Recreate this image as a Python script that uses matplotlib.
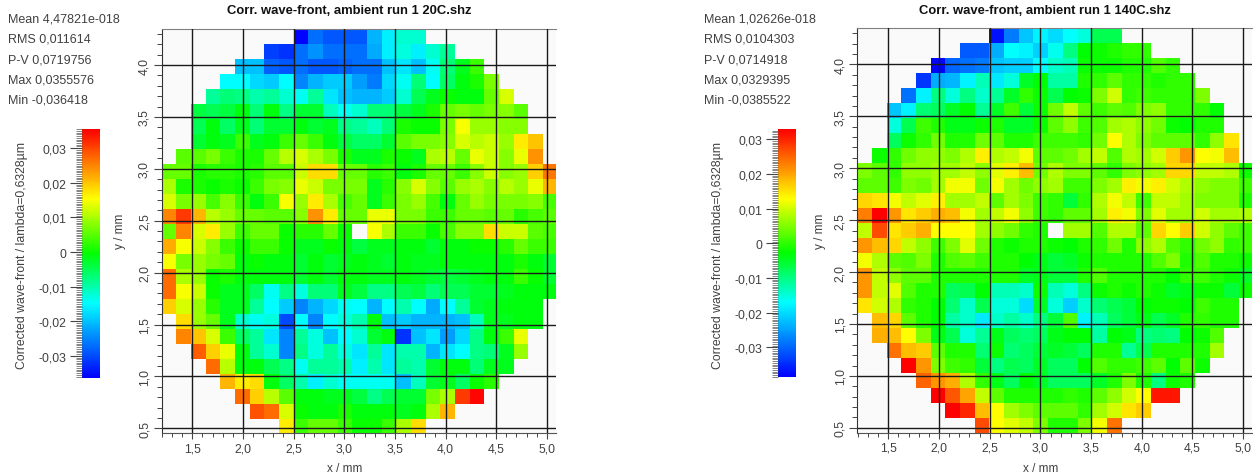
# wave-front maps, two runs side by side
import numpy as np
import matplotlib
matplotlib.use('Agg')
import matplotlib.pyplot as plt
from matplotlib.colors import LinearSegmentedColormap, Normalize
from matplotlib.ticker import MultipleLocator

plt.rcParams['font.family'] = ['Liberation Sans', 'DejaVu Sans']

n = np.nan
NCOL = 27

# values in 1e-3, first column of each row is in the *_start list
left_start = [9, 7, 5, 4, 3, 2, 2, 2, 1, 0, 0, 0, 0, 0, 0, 0, 0, 0, 0, 1, 1, 2, 3, 4, 5, 6, 8]
left_rows = [
    [-36, -27, -29, -29, -29, -21, -16, -12, -12],
    [-31, -32, -27, -24, -27, -27, -27, -22, -16, -13, -16, -12, -9],
    [-20, -20, -28, -29, -27, -29, -29, -28, -27, -27, -20, -17, -20, -14, -7, -2, 3],
    [-15, -15, -18, -19, -15, -25, -21, -19, -19, -23, -26, -18, -14, -7, -15, -6, -1, 1, 7],
    [-9, -7, -8, -10, -9, -12, -14, -9, -17, -20, -21, -21, -19, -12, -5, -2, 0, -1, -1, 6, 13],
    [-4, -5, -4, -1, -7, -1, -8, -3, -3, -11, -14, -12, -7, -7, -4, -2, 1, 6, 7, 6, 7, 8, 5],
    [-5, -1, -6, -2, -7, -3, -3, -1, -3, -2, -8, -9, -11, -7, 1, 0, 0, 7, 15, 9, 9, 8, 8],
    [-3, -1, -2, 3, -2, -1, 3, 6, 3, -1, -4, -6, -6, -3, 5, 7, 7, 8, 13, 11, 12, 9, 17, 20],
    [5, 5, 7, 3, 1, 1, 6, 11, 13, 10, 7, 1, -2, -2, 1, 0, -2, 10, 11, 6, 14, 12, 8, 14, 24],
    [6, 6, 1, 2, 2, 1, 2, 5, 5, 12, 18, 18, 6, 6, 2, 3, -1, 1, 6, 6, 3, 8, 12, 8, 9, 19, 26],
    [10, 1, 1, 0, 1, 0, 3, 7, 8, 14, 12, 7, 7, 7, -2, 2, 8, 13, 8, 5, 9, 10, 8, 11, 9, 14, 21],
    [13, 7, 9, 4, 8, 3, -1, 3, 15, 9, 17, 10, 4, 6, -2, 3, 7, 9, 4, -1, 6, 9, 7, 7, 7, 8, 4],
    [25, 31, 21, 11, 9, 6, 6, 5, 5, 8, 24, 17, 6, 6, 14, 14, 7, 7, 3, 3, 6, 6, 5, 6, 2, 4, 5],
    [6, 25, 13, 17, 9, 3, 6, 6, 0, 2, 2, 6, 0, n, 15, 10, 3, 3, 0, 4, 8, 8, 18, 12, 12, 5, 4],
    [22, 15, 12, 8, 3, 0, 3, 3, 0, -2, -2, 0, -1, -4, -2, -2, -1, -1, -3, -1, -1, 0, 0, 2, 6, 3, 3],
    [15, 7, 9, 7, 6, -1, 0, -1, -1, -3, -1, -3, -2, -1, -2, -3, -1, -2, -2, -1, -1, -1, -1, -1, 1, -1, -3],
    [27, 10, 9, 0, 1, -1, -1, -1, -1, -3, -1, -3, -1, -1, -2, -2, -1, -2, -3, -4, -3, -2, -1, -1, 3, 0, -3],
    [27, 15, 12, 0, -2, -2, -6, -14, -8, -13, -7, -7, -2, -4, -8, -8, -5, -4, -7, -5, -5, -3, -3, -2, -1, -1, -1],
    [19, 13, 9, 2, -2, -2, -9, -15, -19, -25, -21, -18, -14, -15, -21, -15, -10, -15, -22, -15, -9, -3, -2, -1, -1, -1],
    [18, 9, 6, -2, -12, -14, -13, -30, -15, -25, -15, -13, -10, -1, -20, -19, -21, -21, -21, -20, -11, -2, -2, -1, -1],
    [25, 20, 13, 3, -6, -9, -17, -25, -9, -13, -20, -15, -12, -3, -1, -32, -20, -17, -23, -18, -8, -1, 3, 14],
    [28, 19, 14, -1, -9, -12, -25, -8, -13, -9, -13, -17, -9, -17, -10, -10, -21, -17, -15, -8, -7, -2, 9],
    [27, 11, -1, -1, -5, -8, -14, -9, -9, -10, -16, -10, -17, -9, -10, -3, -1, -1, -7, -2, -2],
    [21, 17, 18, -1, -6, -10, -16, -12, -14, -14, -14, -14, -20, -11, -3, -2, -6, 0, 2],
    [27, 19, 11, 5, -1, -1, -2, -2, -4, -8, -5, -3, -3, 7, 10, 31, 35],
    [29, 27, 13, 0, -1, -1, 1, -1, -1, -1, -2, -1, 10, 21],
    [17, 3, 6, 6, 3, 0, 0, 3, 10, 18],
]

right_start = [9, 7, 5, 4, 3, 2, 2, 2, 1, 0, 0, 0, 0, 0, 0, 0, 0, 0, 0, 1, 1, 2, 3, 4, 5, 6, 8]
right_rows = [
    [-37, -28, -22, -18, -20, -17, -15, -7, -7],
    [-31, -31, -24, -17, -18, -21, -16, -10, -3, -2, -1, 0, 0],
    [-38, -30, -29, -28, -22, -21, -21, -17, -14, -13, -2, -2, -2, -1, -1, 2, 0],
    [-34, -24, -23, -18, -13, -19, -15, -5, -3, -12, -12, -1, 0, 3, 0, 0, -1, 0, 0],
    [-29, -18, -10, -15, -10, -14, -11, -5, 0, -2, -7, -3, -2, 5, 10, 0, 1, 0, 0, 0, 5],
    [-22, -18, -9, -8, -5, -3, -11, -5, 1, -6, -2, 4, 9, 3, 1, 3, 2, 5, 6, 0, 0, 0, -3],
    [-15, -7, 1, -1, -4, -4, -2, -1, -5, -5, -2, 3, 6, 1, 2, 7, 8, 6, 4, -2, -3, -1, -1],
    [-8, -2, 0, 4, -1, -1, 4, 3, -1, -1, 1, 1, 1, 0, 4, 13, 8, 5, 3, 3, 3, 0, 6, 15],
    [-2, 0, 4, 6, 6, 5, 8, 14, 8, 9, 12, 3, 3, 4, 7, 9, 2, 8, 7, 10, 17, 21, 13, 12, 18],
    [5, 3, 0, 6, 6, 7, 7, 9, 6, 11, 14, 18, 4, 8, 5, 5, 3, 0, 5, 6, 7, 16, 16, 9, 9, 8, -2],
    [3, 3, 1, 5, 4, 7, 12, 12, 4, 12, 7, 4, 6, 7, 1, 1, 5, 7, 14, 12, 14, 10, 8, 6, 5, 5, 1],
    [16, 15, 12, 9, 11, 14, 7, 7, 9, 3, 7, 5, 1, 0, -6, 0, 8, 12, 9, 1, 9, 9, 7, 5, 5, 5, -1],
    [23, 34, 21, 15, 17, 19, 18, 12, 7, 9, 12, 6, 1, 0, 3, 3, 7, 14, 12, 5, 11, 7, 7, 10, 7, 7, 8],
    [9, 27, 15, 17, 19, 13, 13, 13, 7, 6, 4, 0, -1, n, 7, 7, 2, 8, 8, 3, 16, 13, 17, 10, 6, 3, 1],
    [21, 18, 16, 9, 6, 1, 5, 11, 4, -1, -2, -1, -1, -2, -3, -1, 0, 4, -1, 6, 8, 2, 0, 4, 6, 0, 1],
    [12, 8, 3, 2, 5, -1, 2, 3, 1, -1, -1, -3, -4, -6, -5, -2, -1, -1, -1, -1, 2, 5, -1, 2, -1, -1, -2],
    [21, 9, 6, 3, 3, -1, -1, -1, -1, -1, -1, -5, -4, -6, -6, -1, 2, -1, -1, -1, -1, -3, 0, 1, -1, -2, -5],
    [21, 9, 11, 2, -1, -1, -8, -7, -3, -13, -13, -14, -2, -13, -15, -10, -2, -1, -2, -1, -2, -5, -4, -2, -2, -6, -2],
    [15, 10, 8, 0, -1, -3, -9, -14, -7, -15, -15, -20, -5, -15, -21, -14, -9, -7, -6, -3, -2, -2, -3, 1, -1, -1],
    [18, 16, 3, -1, -3, -12, -14, -19, -14, -12, -14, -10, -6, 2, -18, -13, -8, -6, -4, -7, -5, -1, 0, -1, -1],
    [19, 18, 13, 5, -4, -7, -15, -11, -4, -8, -9, -8, -4, -3, -3, -12, -3, -4, -10, -9, -10, -3, -2, 2],
    [24, 18, 17, 3, -1, -1, -9, -2, -9, -8, -6, -5, -6, -8, -1, -1, -11, -7, -1, -1, -1, -1, 7],
    [33, 21, 5, 1, 0, -6, -10, -7, -8, -5, -8, -8, -3, 2, 0, 0, 1, 3, -3, 3, -2],
    [25, 21, 19, 8, 0, -4, -8, -3, -5, -8, -8, -8, -5, -1, 5, -1, -10, -2, -1],
    [34, 26, 20, 9, 3, -1, -1, -1, -1, 0, -1, 3, 6, 10, 13, 31, 31],
    [34, 30, 18, 13, 7, 5, 3, 3, 3, 0, 7, 10, 15, 17],
    [27, 13, 11, 9, 5, -1, -1, 5, 12, 24],
]

titles = ['Corr. wave-front, ambient run 1 20C.shz', 'Corr. wave-front, ambient run 1 140C.shz']
left_stats = ['Mean 4,47821e-018', 'RMS 0,011614', 'P-V 0,0719756', 'Max 0,0355576', 'Min -0,036418']
right_stats = ['Mean 1,02626e-018', 'RMS 0,0104303', 'P-V 0,0714918', 'Max 0,0329395', 'Min -0,0385522']
left_range = (-36.418, 35.5576)
right_range = (-38.5522, 32.9395)
x_ticks = [1.5, 2.0, 2.5, 3.0, 3.5, 4.0, 4.5, 5.0]
y_ticks = [0.5, 1.0, 1.5, 2.0, 2.5, 3.0, 3.5, 4.0]
cb_ticks = [-30, -20, -10, 0, 10, 20, 30]
cb_labels = ['-0,03', '-0,02', '-0,01', '0', '0,01', '0,02', '0,03']

W, H = 1253, 477
TXT = '#404040'

wave = LinearSegmentedColormap.from_list('wave', [
    (0.0, '#0000ff'), (0.30, '#00ffff'), (0.50, '#00ff00'), (0.72, '#ffff00'), (1.0, '#ff0000')])


def grid_from(start, rows):
    z = np.full((len(rows), NCOL), np.nan)
    for i, r in enumerate(rows):
        z[i, start[i]:start[i] + len(r)] = r
    return z


def axpx(x0, y0, x1, y1):
    return fig.add_axes([x0 / W, 1 - y1 / H, (x1 - x0) / W, (y1 - y0) / H])


def comma(v):
    return ('%.1f' % v).replace('.', ',')


def panel(z, vrange, title, stats, box, cb_box, xlim, ylim, stat_x, cb_label_x, ylab_x):
    ax = axpx(*box)
    ax.set_facecolor('#fafafa')
    norm = Normalize(*vrange)
    xe = xlim[0] + 0.1448 * np.arange(NCOL + 1)
    ye = ylim[1] - 0.1445 * np.arange(len(z) + 1)
    m = ax.pcolormesh(xe, ye, np.ma.masked_invalid(z), cmap=wave, norm=norm, zorder=1)
    ax.set_xlim(*xlim)
    ax.set_ylim(*ylim)
    ax.set_xticks(x_ticks, [comma(v) for v in x_ticks])
    ax.set_yticks(y_ticks, [comma(v) for v in y_ticks], rotation=90, va='center')
    ax.xaxis.set_minor_locator(MultipleLocator(0.1))
    ax.yaxis.set_minor_locator(MultipleLocator(0.1))
    ax.grid(True, which='major', color='#1a1a1a', lw=1.0, zorder=2)
    ax.set_axisbelow(False)
    ax.tick_params(axis='y', which='major', length=6, width=0.8, color='#444444', labelsize=8.8,
                   labelcolor=TXT, pad=2)
    ax.tick_params(axis='y', which='minor', length=3.6, width=0.7, color='#444444')
    ax.tick_params(axis='x', which='major', length=4.5, width=0.8, color='#444444', labelsize=8.8,
                   labelcolor=TXT, pad=2)
    ax.tick_params(axis='x', which='minor', length=3, width=0.7, color='#444444')
    ax.spines['right'].set_visible(False)
    ax.spines['top'].set_color('#808080')
    ax.spines['left'].set_color('#333333')
    ax.spines['bottom'].set_color('#555555')
    fig.text((box[0] + 188) / W, 1 - 11 / H, title, fontsize=9.4, fontweight='bold', color='#111111',
             ha='center', va='center')
    fig.text((box[0] + 183) / W, 1 - 469 / H, 'x / mm', fontsize=8.5, color=TXT, ha='center', va='center')
    fig.text(ylab_x / W, 1 - 231 / H, 'y / mm', fontsize=8.5, color=TXT, rotation=90, ha='center', va='center')
    for i, s in enumerate(stats):
        fig.text(stat_x / W, 1 - (19.5 + 20.3 * i) / H, s, fontsize=9, color=TXT, ha='left', va='center')

    cax = axpx(*cb_box)
    cb = fig.colorbar(m, cax=cax)
    cb.set_ticks(cb_ticks, labels=cb_labels)
    cb.outline.set_visible(False)
    cax.yaxis.set_ticks_position('left')
    cax.yaxis.set_minor_locator(MultipleLocator(0.5))
    cax.tick_params(which='major', length=9, width=0.8, color='#444444', labelsize=8.8,
                    labelcolor=TXT, pad=2)
    cax.tick_params(which='minor', length=4, width=0.5, color='#555555')
    fig.text(cb_label_x / W, 1 - 255 / H, 'Corrected wave-front / lambda=0,6328\u00b5m', fontsize=8.8,
             color=TXT, rotation=90, ha='center', va='center')


fig = plt.figure(figsize=(W / 100, H / 100), dpi=100, facecolor='white')

panel(grid_from(left_start, left_rows), left_range, titles[0], left_stats,
      (161.7, 30, 556, 434), (82, 130, 100, 379), (1.198, 5.09), (0.455, 4.347), 8, 22, 120)
panel(grid_from(right_start, right_rows), right_range, titles[1], right_stats,
      (857.3, 29, 1252.3, 433.5), (778, 130, 796, 378), (1.194, 5.09), (0.455, 4.35), 704, 718, 820)

fig.savefig('out.png', dpi=100)
